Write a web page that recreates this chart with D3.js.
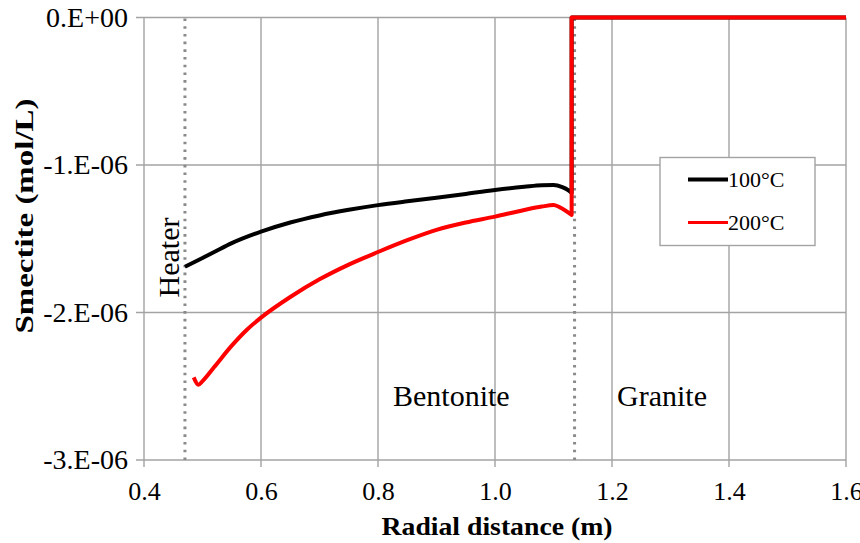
<!DOCTYPE html>
<html>
<head>
<meta charset="utf-8">
<script src="https://cdn.jsdelivr.net/npm/d3@7"></script>
<style>
  html, body { margin: 0; padding: 0; background: #fff; }
  svg text { font-family: "Liberation Serif", "Times New Roman", "DejaVu Serif", serif; fill: #000; }
</style>
</head>
<body>
<svg id="chart" width="860" height="543"></svg>
<script>
// ---- data ----
const xTicks = [0.4, 0.6, 0.8, 1.0, 1.2, 1.4, 1.6];
const xTickLabels = ["0.4", "0.6", "0.8", "1.0", "1.2", "1.4", "1.6"];
const yTicks = [0, -1e-6, -2e-6, -3e-6];
const yTickLabels = ["0.E+00", "-1.E-06", "-2.E-06", "-3.E-06"];
const seriesNames = ["100°C", "200°C"];
const seriesColors = ["#000000", "#ff0000"];

// bentonite part (smooth)
const radius100 = [0.47, 0.50, 0.52, 0.55, 0.60, 0.65, 0.70, 0.75, 0.80, 0.85, 0.90, 0.95, 1.00, 1.05, 1.08, 1.10, 1.115, 1.125, 1.131];
const smectite100 = [-1.69e-6, -1.63e-6, -1.59e-6, -1.53e-6, -1.452e-6, -1.39e-6, -1.342e-6, -1.304e-6, -1.272e-6, -1.246e-6, -1.222e-6, -1.196e-6, -1.17e-6, -1.148e-6, -1.137e-6, -1.136e-6, -1.15e-6, -1.17e-6, -1.19e-6];
const radius200 = [0.485, 0.493, 0.50, 0.52, 0.55, 0.575, 0.60, 0.65, 0.70, 0.75, 0.80, 0.85, 0.90, 0.95, 1.00, 1.05, 1.08, 1.10, 1.11, 1.131];
const smectite200 = [-2.44e-6, -2.49e-6, -2.465e-6, -2.37e-6, -2.225e-6, -2.12e-6, -2.035e-6, -1.895e-6, -1.775e-6, -1.675e-6, -1.59e-6, -1.51e-6, -1.44e-6, -1.39e-6, -1.35e-6, -1.305e-6, -1.282e-6, -1.272e-6, -1.285e-6, -1.338e-6];
// granite part (step to zero)
const radiusGranite = [1.131, 1.6];
const smectiteGranite = [0, 0];

const boundaryX = [0.47, 1.136];
const zoneLabels = ["Heater", "Bentonite", "Granite"];
const axisTitles = ["Radial distance (m)", "Smectite (mol/L)"];

// ---- layout ----
const svg = d3.select("#chart");
const pLeft = 144, pRight = 846, pTop = 17.5, pBottom = 460;
const x = d3.scaleLinear().domain([0.4, 1.6]).range([pLeft, pRight]);
const y = d3.scaleLinear().domain([-3e-6, 0]).range([pBottom, pTop]);
const gridColor = "#a3a3a3";
const serif = "'Liberation Serif', 'Times New Roman', 'DejaVu Serif', serif";

// grid
const g = svg.append("g");
g.selectAll(".vg").data(xTicks).join("line")
  .attr("x1", d => x(d)).attr("x2", d => x(d))
  .attr("y1", pTop).attr("y2", pBottom + 7)
  .attr("stroke", gridColor).attr("stroke-width", 1.4);
g.selectAll(".hg").data(yTicks).join("line")
  .attr("x1", pLeft - 8).attr("x2", pRight)
  .attr("y1", d => y(d)).attr("y2", d => y(d))
  .attr("stroke", gridColor).attr("stroke-width", 1.4);

// axes (labels via d3 axes)
const xAxis = d3.axisBottom(x).tickValues(xTicks)
  .tickFormat((d, i) => xTickLabels[i]).tickSize(0).tickPadding(22);
const xa = svg.append("g").attr("transform", `translate(0,${pBottom})`).call(xAxis)
  .attr("font-family", null);
xa.select(".domain").remove();
xa.selectAll("text").style("font-family", serif).style("font-size", "26px").attr("dy", "0.35em").attr("y", 31);

const yAxis = d3.axisLeft(y).tickValues(yTicks)
  .tickFormat((d, i) => yTickLabels[i]).tickSize(0).tickPadding(16);
const ya = svg.append("g").attr("transform", `translate(${pLeft},0)`).call(yAxis)
  .attr("font-family", null);
ya.select(".domain").remove();
ya.selectAll("text").style("font-family", serif).style("font-size", "28px");

// boundary dotted lines
svg.selectAll(".bd").data(boundaryX).join("line")
  .attr("x1", d => x(d)).attr("x2", d => x(d))
  .attr("y1", pTop + 1).attr("y2", pBottom)
  .attr("stroke", "#8a8a8a").attr("stroke-width", 3)
  .attr("stroke-dasharray", "2.6,5.1");

// series: smooth bentonite curve + step to zero in granite
const smooth = d3.line().x(d => x(d[0])).y(d => y(d[1])).curve(d3.curveMonotoneX);
const straight = d3.line().x(d => x(d[0])).y(d => y(d[1]));
const curves = [d3.zip(radius100, smectite100), d3.zip(radius200, smectite200)];
curves.forEach((pts, i) => {
  const last = pts[pts.length - 1];
  const step = [last].concat(d3.zip(radiusGranite, smectiteGranite));
  svg.append("path").attr("d", smooth(pts) + straight(step).replace(/^M/, "L"))
    .attr("fill", "none")
    .attr("stroke", seriesColors[i])
    .attr("stroke-width", 4)
    .attr("stroke-linejoin", "round");
});

// zone labels
svg.append("text").text(zoneLabels[0])
  .attr("transform", `translate(179,257.5) rotate(-90)`)
  .attr("text-anchor", "middle").style("font-size", "30px");
svg.append("text").text(zoneLabels[1])
  .attr("x", 393).attr("y", 406).style("font-size", "30px");
svg.append("text").text(zoneLabels[2])
  .attr("x", 617).attr("y", 406).style("font-size", "30px");

// axis titles
svg.append("text").text(axisTitles[0])
  .attr("x", 497).attr("y", 535).attr("text-anchor", "middle")
  .style("font-size", "26px").style("font-weight", "bold")
  .attr("textLength", 231).attr("lengthAdjust", "spacingAndGlyphs");
svg.append("text").text(axisTitles[1])
  .attr("transform", "translate(33,216) rotate(-90)")
  .attr("text-anchor", "middle")
  .style("font-size", "26px").style("font-weight", "bold")
  .attr("textLength", 235).attr("lengthAdjust", "spacingAndGlyphs");

// legend
const lg = svg.append("g");
lg.append("rect").attr("x", 660).attr("y", 157.5).attr("width", 155).attr("height", 88)
  .attr("fill", "#fff").attr("stroke", gridColor).attr("stroke-width", 1.4);
const ly = [179.5, 222.5];
seriesNames.forEach((n, i) => {
  lg.append("line").attr("x1", 688).attr("x2", 728).attr("y1", ly[i]).attr("y2", ly[i])
    .attr("stroke", seriesColors[i]).attr("stroke-width", i === 0 ? 4 : 3);
  lg.append("text").text(n).attr("x", 728).attr("y", ly[i])
    .attr("dy", "0.35em").style("font-size", "22px");
});
</script>
</body>
</html>
